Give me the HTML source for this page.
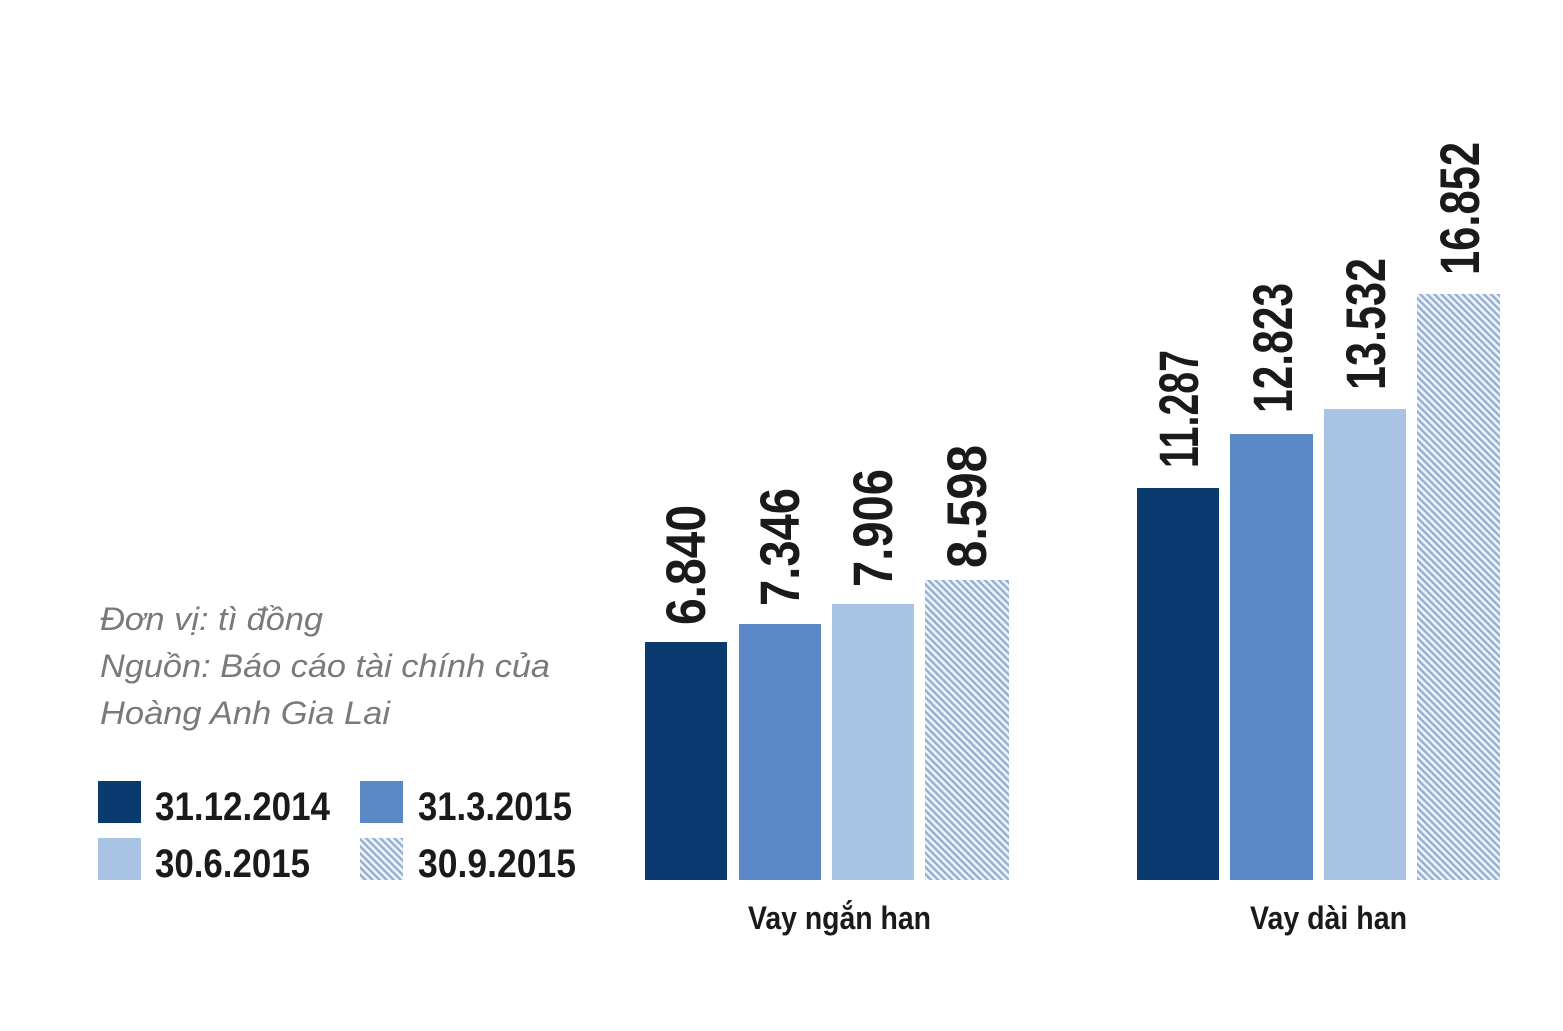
<!DOCTYPE html>
<html><head><meta charset="utf-8"><style>html,body{margin:0;padding:0;background:#fff}svg{display:block}</style></head>
<body>
<svg width="1563" height="1031" viewBox="0 0 1563 1031" xmlns="http://www.w3.org/2000/svg">
<defs>
<pattern id="h" width="5" height="5" patternUnits="userSpaceOnUse" patternTransform="rotate(-45)">
<rect width="5" height="5" fill="#eef3fa"/>
<rect width="2.4" height="5" fill="#95afd3"/>
</pattern>
</defs>
<g font-family="'Liberation Sans', sans-serif" font-style="italic" fill="#7a7a7a" font-size="32">
<text x="100" y="630" textLength="223" lengthAdjust="spacingAndGlyphs">Đơn vị: tì đồng</text>
<text x="100" y="677" textLength="450" lengthAdjust="spacingAndGlyphs">Nguồn: Báo cáo tài chính của</text>
<text x="100" y="724" textLength="290" lengthAdjust="spacingAndGlyphs">Hoàng Anh Gia Lai</text>
</g>
<rect x="98" y="781" width="43" height="42" fill="#0b3a70"/>
<rect x="360" y="781" width="43" height="42" fill="#5b88c6"/>
<rect x="98" y="838" width="43" height="42" fill="#a9c3e4"/>
<rect x="360" y="838" width="43" height="42" fill="url(#h)"/>
<g font-family="'Liberation Sans', sans-serif" font-weight="bold" fill="#1a1a1a" font-size="40">
<text x="155" y="820" textLength="175" lengthAdjust="spacingAndGlyphs">31.12.2014</text>
<text x="418" y="820" textLength="154" lengthAdjust="spacingAndGlyphs">31.3.2015</text>
<text x="155" y="877" textLength="155" lengthAdjust="spacingAndGlyphs">30.6.2015</text>
<text x="418" y="877" textLength="158" lengthAdjust="spacingAndGlyphs">30.9.2015</text>
<text x="748" y="929" font-size="32" textLength="183" lengthAdjust="spacingAndGlyphs">Vay ngắn han</text>
<text x="1250" y="929" font-size="32" textLength="157" lengthAdjust="spacingAndGlyphs">Vay dài han</text>
</g>
<rect x="645" y="642" width="82" height="238" fill="#0b3a70"/>
<rect x="739" y="624" width="82" height="256" fill="#5b88c6"/>
<rect x="832" y="604" width="82" height="276" fill="#a9c3e4"/>
<rect x="925" y="580" width="84" height="300" fill="url(#h)"/>
<rect x="1137" y="488" width="82" height="392" fill="#0b3a70"/>
<rect x="1230" y="434" width="83" height="446" fill="#5b88c6"/>
<rect x="1324" y="409" width="82" height="471" fill="#a9c3e4"/>
<rect x="1417" y="294" width="83" height="586" fill="url(#h)"/>
<g font-family="'Liberation Sans', sans-serif" font-weight="bold" fill="#1a1a1a" font-size="56">
<text transform="translate(705,625) rotate(-90)" textLength="120" lengthAdjust="spacingAndGlyphs">6.840</text>
<text transform="translate(799,606) rotate(-90)" textLength="118" lengthAdjust="spacingAndGlyphs">7.346</text>
<text transform="translate(892,587) rotate(-90)" textLength="118" lengthAdjust="spacingAndGlyphs">7.906</text>
<text transform="translate(986,568) rotate(-90)" textLength="123" lengthAdjust="spacingAndGlyphs">8.598</text>
<text transform="translate(1198,468) rotate(-90)" textLength="118" lengthAdjust="spacingAndGlyphs">11.287</text>
<text transform="translate(1292,413) rotate(-90)" textLength="130" lengthAdjust="spacingAndGlyphs">12.823</text>
<text transform="translate(1385,390) rotate(-90)" textLength="132" lengthAdjust="spacingAndGlyphs">13.532</text>
<text transform="translate(1479,275) rotate(-90)" textLength="133" lengthAdjust="spacingAndGlyphs">16.852</text>
</g>
</svg>
</body></html>
